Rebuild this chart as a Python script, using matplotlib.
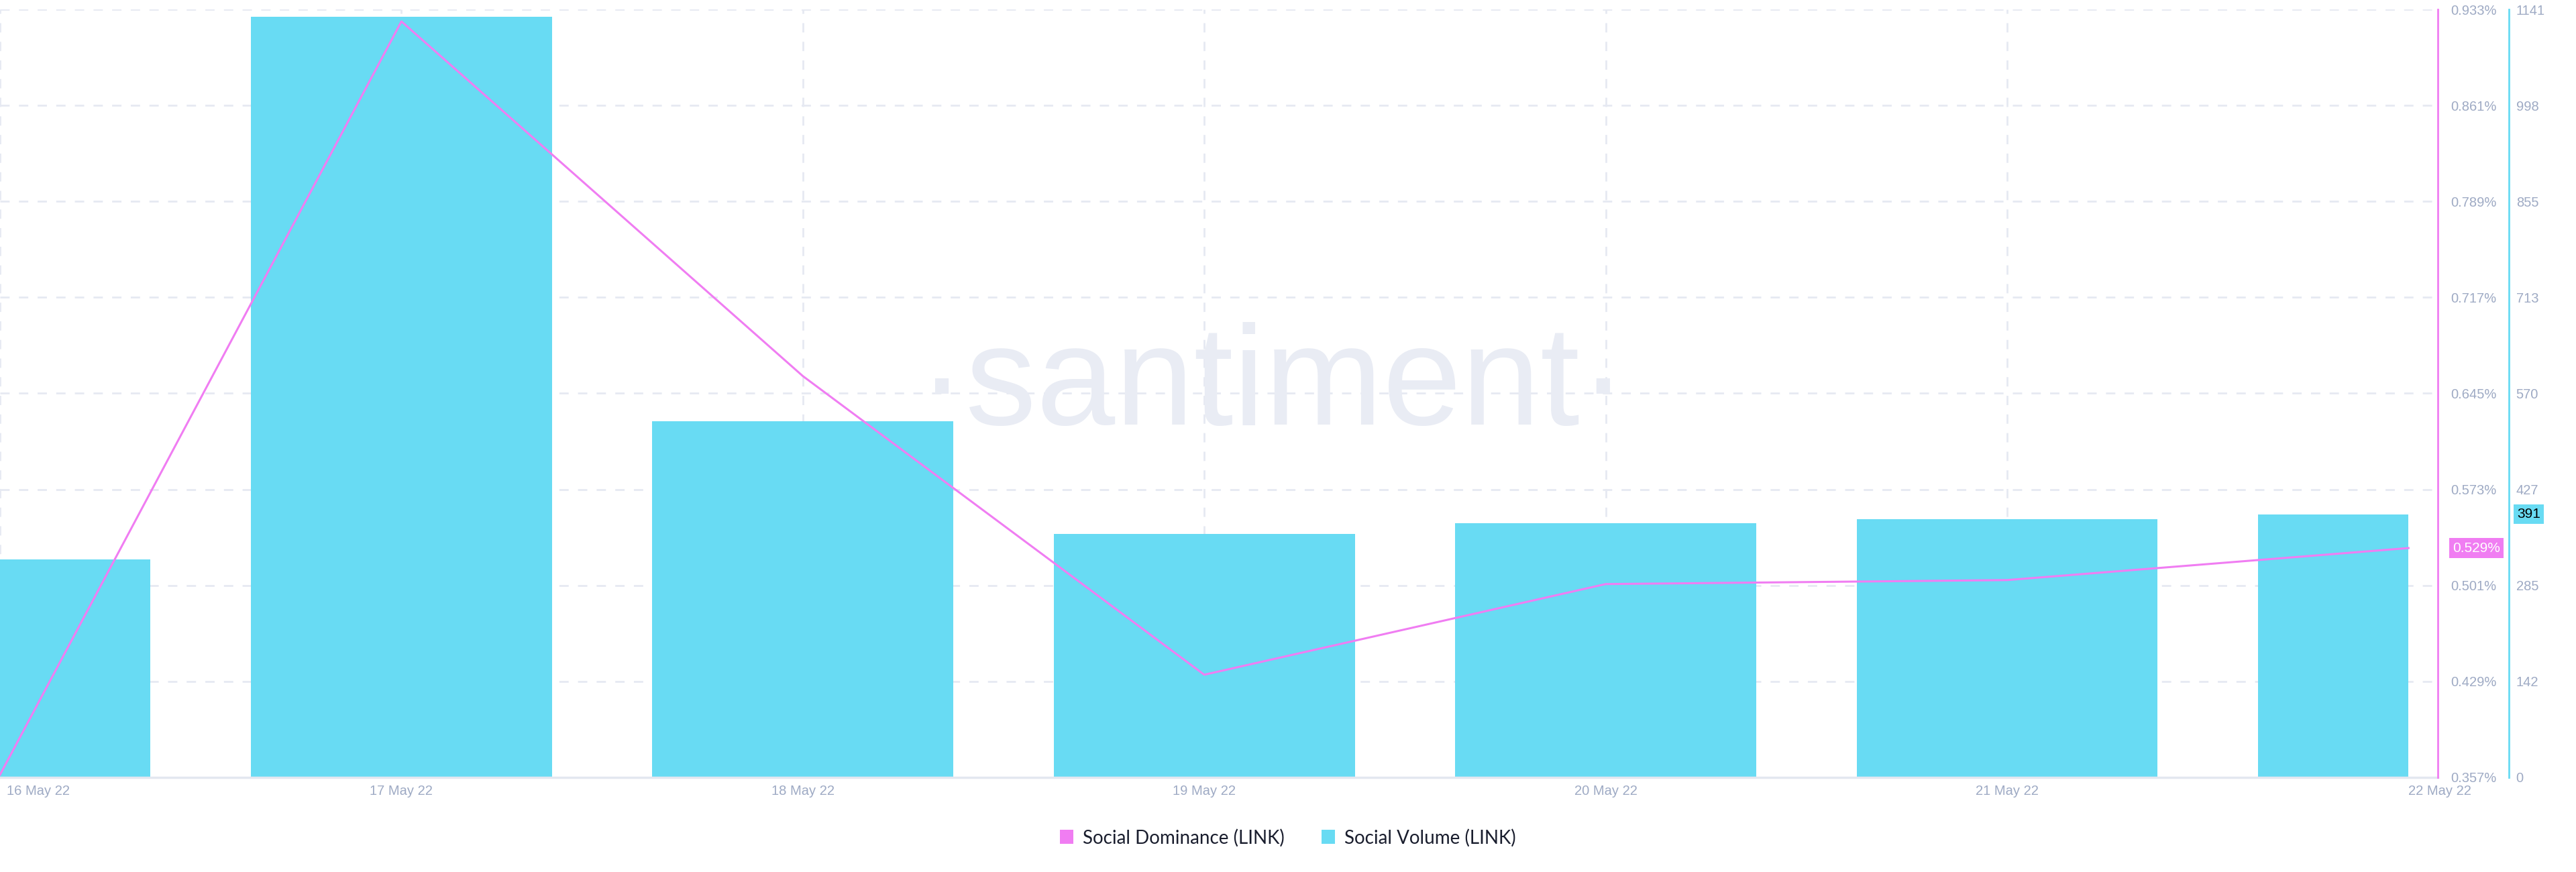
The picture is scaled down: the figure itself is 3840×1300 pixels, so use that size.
import numpy as np
import matplotlib
matplotlib.use("Agg")
import matplotlib.pyplot as plt
from matplotlib.patches import Patch, Rectangle
from matplotlib.transforms import blended_transform_factory, ScaledTranslation

# ---------------------------------------
# Data
# ---------------------------------------
dates = ["16 May 22", "17 May 22", "18 May 22", "19 May 22",
         "20 May 22", "21 May 22", "22 May 22"]
social_volume = [324, 1130, 529, 362, 378, 384, 391]
social_dominance = [0.359, 0.924, 0.658, 0.434, 0.502, 0.505, 0.529]

dom_min, dom_max = 0.357, 0.933
vol_min, vol_max = 0, 1141

# ---------------------------------------
# Style
# ---------------------------------------
BAR_COLOR = "#68dbf3"
LINE_COLOR = "#f07df2"
GRID_COLOR = "#e6e9f2"
TICK_COLOR = "#9eaac4"
REGULAR = ["Liberation Sans", "DejaVu Sans"]

fig = plt.figure(figsize=(38.4, 13), dpi=100)
ax = fig.add_axes([0.0, 0.1085, 3634 / 3840, 0.8807])
ax2 = ax.twinx()

x = np.arange(len(dates))

# bars (Social Volume), clipped to the first..last date span
bars = ax.bar(x, social_volume, width=0.75, color=BAR_COLOR, zorder=2)
clip = Rectangle((x[0], vol_min), x[-1] - x[0], vol_max - vol_min,
                 transform=ax.transData, visible=False)
ax.add_patch(clip)
for b in bars:
    b.set_clip_path(clip)

ax.set_ylim(vol_min, vol_max)
ax.set_xlim(0, 6.073)

vol_ticks = np.linspace(vol_min, vol_max, 9)
ax.set_yticks(vol_ticks)
ax.set_yticklabels([str(int(np.floor(v))) for v in vol_ticks])
ax.yaxis.tick_right()
ax.spines["right"].set_position(("outward", 76))
ax.spines["right"].set_color(BAR_COLOR)
ax.spines["right"].set_linewidth(2)
ax.spines["left"].set_visible(False)
ax.spines["top"].set_visible(False)
ax.spines["bottom"].set_color("#e3e7f0")
ax.spines["bottom"].set_linewidth(2.5)
ax.tick_params(axis="y", length=0, pad=8, labelcolor=TICK_COLOR, labelsize=14.5)
for t in ax.get_yticklabels():
    t.set_family(REGULAR)

ax.set_xticks(x)
ax.set_xticklabels(dates)
ax.tick_params(axis="x", length=0, pad=8, labelcolor=TICK_COLOR, labelsize=14.5)
for t in ax.get_xticklabels():
    t.set_family(REGULAR)
xt = ax.get_xticklabels()
xt[0].set_horizontalalignment("left")
xt[0].set_transform(xt[0].get_transform() + ScaledTranslation(0.1, 0, fig.dpi_scale_trans))
xt[-1].set_horizontalalignment("left")

ax.set_axisbelow(True)
ax.grid(True, color=GRID_COLOR, linestyle=(0, (5, 5)), linewidth=2, zorder=0)
ax.xaxis.get_gridlines()[-1].set_visible(False)

# watermark
ax.text(0.522, 0.459, "\u00b7santiment\u00b7", transform=ax.transAxes,
        ha="center", va="baseline", fontsize=152, color="#e9ecf4",
        family=REGULAR, zorder=1)

# line (Social Dominance)
ax2.plot(x, social_dominance, color=LINE_COLOR, linewidth=2.2, zorder=3)
ax2.set_ylim(dom_min, dom_max)
dom_ticks = np.linspace(dom_min, dom_max, 9)
ax2.set_yticks(dom_ticks)
ax2.set_yticklabels([f"{v:.3f}%" for v in dom_ticks])
ax2.tick_params(axis="y", length=0, pad=14, labelcolor=TICK_COLOR, labelsize=14.5)
for t in ax2.get_yticklabels():
    t.set_family(REGULAR)
for s in ["left", "top", "bottom"]:
    ax2.spines[s].set_visible(False)
ax2.spines["right"].set_color(LINE_COLOR)
ax2.spines["right"].set_linewidth(2)

# last value badges
tr2 = blended_transform_factory(ax2.transAxes, ax2.transData)
ax2.text(1.0 + 22 / 3634, social_dominance[-1], f"{social_dominance[-1]:.3f}%",
         transform=tr2, ha="left", va="center", fontsize=15, color="white",
         family=REGULAR,
         bbox=dict(boxstyle="square,pad=0.25", facecolor=LINE_COLOR, edgecolor="none"))
tr1 = blended_transform_factory(ax.transAxes, ax.transData)
ax.text(1.0 + 118 / 3634, social_volume[-1], str(social_volume[-1]),
        transform=tr1, ha="left", va="center", fontsize=15, color="black",
        family=REGULAR, clip_on=False,
        bbox=dict(boxstyle="square,pad=0.25", facecolor=BAR_COLOR, edgecolor="none"))

# legend
handles = [Patch(facecolor=LINE_COLOR, label="Social Dominance (LINK)"),
           Patch(facecolor=BAR_COLOR, label="Social Volume (LINK)")]
fig.legend(handles=handles, loc="center", bbox_to_anchor=(0.5, 1 - 1249 / 1300),
           ncol=2, frameon=False, handlelength=0.72, handleheight=0.8,
           handletextpad=0.5, columnspacing=2.0,
           prop={"family": ["Lato", "DejaVu Sans"], "size": 20},
           labelcolor="#1a1e2e")

fig.savefig("out.png", dpi=100)
